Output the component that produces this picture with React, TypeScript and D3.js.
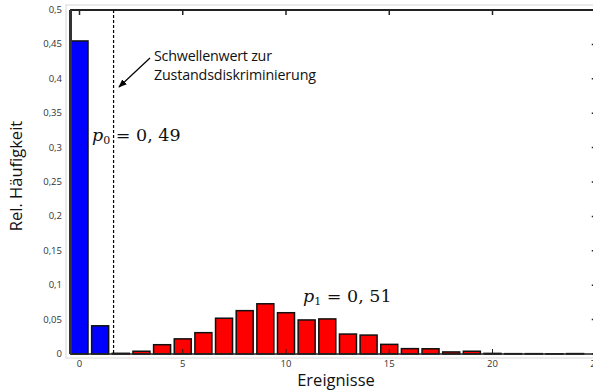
import React from 'react';
import * as d3 from 'd3';

// relative frequency per number of events
const events = d3.range(0, 25);
const freq = [
  0.455, 0.041, 0.001, 0.004, 0.0135, 0.022, 0.031, 0.052, 0.063, 0.073,
  0.06, 0.0495, 0.051, 0.029, 0.0275, 0.014, 0.0078, 0.0076, 0.003, 0.004,
  0.0009, 0.0005, 0.0005, 0.0003, 0.0006,
];
const blueCount = 2; // events below the threshold
const threshold = 1.65;
const xTicks = [0, 5, 10, 15, 20, 25];
const yTicks = [0, 0.05, 0.1, 0.15, 0.2, 0.25, 0.3, 0.35, 0.4, 0.45, 0.5];

const W = 593;
const H = 390;

const fmt = (v: number) => String(v).replace('.', ',');

export default function App() {
  const x = d3.scaleLinear().domain([0, 20]).range([79.5, 492.5]);
  const y = d3.scaleLinear().domain([0, 0.5]).range([354, 10]);
  const barW = 17;
  const left = x(-0.46);
  const right = x(25);
  const top = y(0.5);
  const bottom = y(0);

  const sans = "'Open Sans', 'Noto Sans', sans-serif";
  const serif = "'DejaVu Serif', 'Liberation Serif', serif";

  return (
    <svg width={W} height={H} style={{ position: 'absolute', left: 0, top: 0, background: '#fff' }}>
      <defs>
        <marker id="ah" viewBox="0 0 10 10" refX="9" refY="5" markerWidth="7" markerHeight="7" orient="auto-start-reverse">
          <path d="M0,1 L10,5 L0,9 Z" fill="#000" />
        </marker>
      </defs>

      {/* light outer frame */}
      <rect x={left - 4} y={top - 5} width={right - left + 10} height={bottom - top + 9} fill="none" stroke="#d8d8d8" strokeWidth={1} />

      {/* bars */}
      {events.map((k, i) => (
        <rect
          key={k}
          x={x(k) - barW / 2}
          y={y(freq[i])}
          width={barW}
          height={bottom - y(freq[i])}
          fill={i < blueCount ? '#0000ff' : '#ff0000'}
          stroke="#111"
          strokeWidth={1.5}
        />
      ))}

      {/* axis frame */}
      <line x1={left} x2={right} y1={top} y2={top} stroke="#222" strokeWidth={2} />
      <line x1={left} x2={right} y1={bottom} y2={bottom} stroke="#222" strokeWidth={1.5} />
      <line x1={left + 0.5} x2={left + 0.5} y1={top} y2={bottom} stroke="#333" strokeWidth={3} />
      <line x1={right} x2={right} y1={top} y2={bottom} stroke="#222" strokeWidth={2} />

      {/* ticks */}
      {xTicks.map((t) => (
        <g key={t}>
          <line x1={x(t)} x2={x(t)} y1={top} y2={top + 5} stroke="#222" strokeWidth={1.5} />
          <line x1={x(t)} x2={x(t)} y1={bottom} y2={bottom - 5} stroke="#222" strokeWidth={1} />
          <text x={x(t)} y={bottom + 13} textAnchor="middle" fontSize={9.5} fontFamily={sans} fill="#333">
            {t}
          </text>
        </g>
      ))}
      {yTicks.map((t) => (
        <g key={t}>
          <line x1={right - 4} x2={right} y1={y(t)} y2={y(t)} stroke="#222" strokeWidth={1.5} />
          <text x={62} y={y(t) + 3} textAnchor="end" fontSize={9.5} fontFamily={sans} fill="#333">
            {fmt(t)}
          </text>
        </g>
      ))}

      {/* threshold */}
      <line x1={x(threshold)} x2={x(threshold)} y1={top} y2={bottom} stroke="#000" strokeWidth={1.2} strokeDasharray="3,2" />

      {/* annotation */}
      <text x={154} y={61} fontSize={14.3} fontFamily={sans} fill="#111" textLength={118}>Schwellenwert zur</text>
      <text x={154} y={80} fontSize={14.3} fontFamily={sans} fill="#111" textLength={162}>Zustandsdiskriminierung</text>
      <line x1={150} y1={58} x2={119} y2={87} stroke="#000" strokeWidth={1.2} markerEnd="url(#ah)" />

      <text x={92} y={141} fontSize={17.5} fontFamily={serif} fill="#111">
        <tspan fontStyle="italic">p</tspan>
        <tspan fontSize={11} dy={3}>0</tspan>
        <tspan dy={-3}> = 0, 49</tspan>
      </text>
      <text x={303} y={302} fontSize={17.5} fontFamily={serif} fill="#111">
        <tspan fontStyle="italic">p</tspan>
        <tspan fontSize={11} dy={3}>1</tspan>
        <tspan dy={-3}> = 0, 51</tspan>
      </text>

      {/* axis titles */}
      <text x={336} y={386} textAnchor="middle" fontSize={16.5} fontFamily={sans} fill="#111">
        Ereignisse
      </text>
      <text transform={`translate(22,${(top + bottom) / 2 - 6}) rotate(-90)`} textAnchor="middle" fontSize={16.5} fontFamily={sans} fill="#111">
        Rel. Häufigkeit
      </text>
    </svg>
  );
}
